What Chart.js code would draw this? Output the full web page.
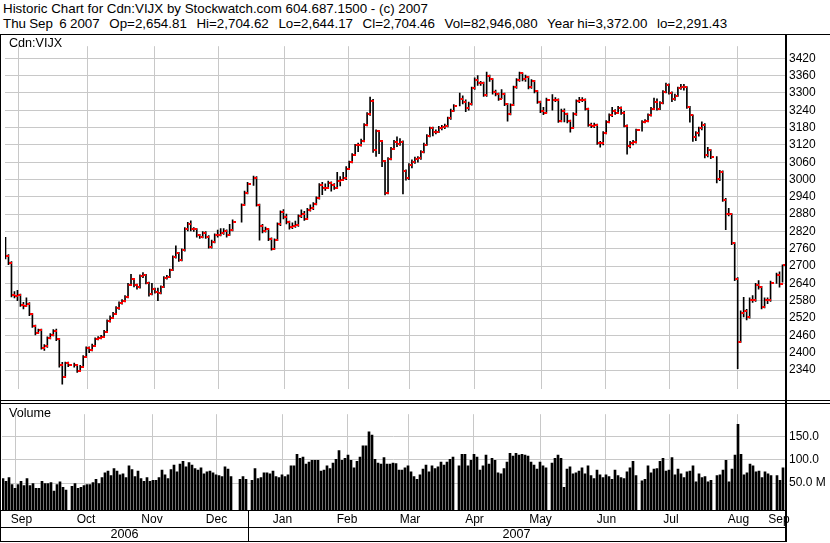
<!DOCTYPE html>
<html>
<head>
<meta charset="utf-8">
<script src="https://cdn.jsdelivr.net/npm/chart.js@4.4.0/dist/chart.umd.min.js"></script>
<style>
    body { margin: 0; background: #fff; }
    #wrap { position: relative; width: 830px; height: 543px; overflow: hidden; background: #fff; color: #000;
            font-family: 'Liberation Sans', Arial, sans-serif; }
    .txt { position: absolute; white-space: pre; font-size: 12.6px; line-height: 14px; }
    .head { font-size: 13.35px; }
    .rule { position: absolute; background: #000; }
    canvas { position: absolute; left: 0; }
</style>
</head>
<body>
<div id="wrap">
    <div class="txt head" style="left:3px; top:2px">Historic Chart for Cdn:VIJX by Stockwatch.com 604.687.1500 - (c) 2007</div>
    <div class="txt head" style="left:3px; top:17px; word-spacing:-0.5px">Thu Sep  6 2007   Op=2,654.81   Hi=2,704.62   Lo=2,644.17   Cl=2,704.46   Vol=82,946,080   Year hi=3,372.00   lo=2,291.43</div>
    <canvas id="price-chart" width="830" height="365" style="top:35px"></canvas>
    <canvas id="volume-chart" width="830" height="124" style="top:403px"></canvas>
    <div class="txt" style="left:9px; top:36px">Cdn:VIJX</div>
    <div class="txt" style="left:9px; top:406px">Volume</div>
</div>

<script>
const startDate = '2006-09-07';
const endDate = '2007-09-06';
const monthNames = ['Jan', 'Feb', 'Mar', 'Apr', 'May', 'Jun', 'Jul', 'Aug', 'Sep', 'Oct', 'Nov', 'Dec'];

// one entry per weekday, null on market holidays
const closes = [
    2734, 2712, 2599, 2597, 2600, 2565, 2562, 2570, 2533, 2493,
    2470, 2478, 2418, 2422, 2451, 2461, 2474, 2447, 2356, 2317,
    2364, 2359, null, 2356, 2338, 2351, 2386, 2417, 2409, 2425,
    2447, 2451, 2455, 2473, 2509, 2522, 2535, 2554, 2571, 2578,
    2593, 2636, 2655, 2633, 2626, 2665, 2670, 2643, 2602, 2621,
    2612, 2606, 2627, 2659, 2663, 2686, 2730, 2744, 2721, 2755,
    2828, 2845, 2828, 2827, 2807, 2802, 2814, 2802, 2767, 2783,
    2808, 2808, 2815, 2821, 2808, 2826, 2852, null, null, 2913,
    2955, 2984, null, 3006, 2913, 2838, 2822, 2829, 2795, 2761,
    2790, 2845, 2887, 2869, 2852, 2834, 2838, 2841, 2873, 2882,
    2865, 2895, 2900, 2916, 2936, 2982, 2969, 2972, 2988, 2982,
    2972, 2994, 3000, 3004, 3037, 3060, 3086, 3118, 3121, 3134,
    3190, 3226, 3271, 3104, 3167, 3134, 3063, 2952, 3072, 3107,
    3131, 3124, 3130, 3030, 3004, 3050, 3062, 3072, 3075, 3095,
    3121, 3151, 3177, 3164, 3166, 3179, 3183, 3186, 3212, 3239,
    3255, null, 3280, 3270, 3248, 3262, 3316, 3346, 3333, 3333,
    3294, 3359, 3348, 3302, 3297, 3280, 3297, 3262, 3226, 3258,
    3319, 3346, 3368, 3348, 3357, 3319, 3342, 3306, 3270, 3239,
    3232, 3277, null, 3277, 3277, 3203, 3239, 3226, 3203, 3180,
    3226, 3271, 3277, 3277, 3245, 3190, 3187, 3190, 3128, 3125,
    3161, 3200, 3223, 3236, 3232, 3249, 3232, 3187, 3115, 3127,
    3130, 3170, null, 3200, 3203, 3223, 3245, 3268, 3245, 3265,
    3303, 3329, 3301, 3278, 3290, 3316, 3322, 3319, 3251, 3222,
    3148, 3160, 3177, 3190, 3086, 3101, 3079, null, 3001, 3027,
    2930, 2880, 2880, 2779, 2656, 2438, 2539, 2543, 2525, 2583,
    2581, 2633, 2627, 2559, 2584, 2581, 2643, null, 2671, 2639,
    2704.46,
];

const highs = [
    2800, 2740, 2716, 2612, 2616, 2603, 2575, 2590, 2574, 2536,
    2496, 2482, 2482, 2428, 2455, 2466, 2480, 2482, 2450, 2367,
    2368, 2368, null, 2364, 2360, 2356, 2390, 2420, 2420, 2430,
    2452, 2456, 2460, 2478, 2514, 2528, 2540, 2560, 2576, 2584,
    2598, 2640, 2672, 2658, 2638, 2670, 2678, 2672, 2645, 2640,
    2624, 2624, 2632, 2664, 2668, 2690, 2736, 2770, 2748, 2760,
    2834, 2852, 2857, 2834, 2830, 2810, 2820, 2820, 2806, 2790,
    2812, 2825, 2830, 2830, 2826, 2845, 2860, null, null, 2916,
    2960, 2990, null, 3012, 3010, 2915, 2845, 2835, 2830, 2798,
    2795, 2850, 2892, 2896, 2880, 2856, 2850, 2856, 2878, 2895,
    2890, 2900, 2912, 2920, 2940, 2986, 2990, 2985, 2995, 2992,
    2986, 3025, 3010, 3025, 3045, 3064, 3090, 3122, 3126, 3140,
    3194, 3232, 3286, 3278, 3172, 3170, 3136, 3066, 3076, 3112,
    3136, 3148, 3142, 3134, 3034, 3055, 3068, 3078, 3080, 3100,
    3126, 3156, 3182, 3182, 3172, 3184, 3188, 3192, 3216, 3244,
    3260, null, 3300, 3290, 3276, 3268, 3320, 3352, 3360, 3340,
    3338, 3372, 3362, 3350, 3310, 3300, 3312, 3300, 3264, 3262,
    3324, 3350, 3372, 3370, 3362, 3358, 3346, 3344, 3308, 3272,
    3250, 3282, null, 3294, 3284, 3280, 3244, 3245, 3230, 3206,
    3232, 3276, 3285, 3284, 3280, 3248, 3196, 3196, 3192, 3132,
    3166, 3204, 3228, 3250, 3242, 3254, 3252, 3236, 3190, 3132,
    3136, 3175, null, 3204, 3208, 3228, 3250, 3282, 3280, 3270,
    3308, 3334, 3332, 3304, 3296, 3320, 3330, 3330, 3322, 3254,
    3224, 3166, 3182, 3200, 3194, 3112, 3104, null, 3080, 3032,
    3030, 2935, 2900, 2882, 2782, 2660, 2545, 2592, 2550, 2590,
    2598, 2640, 2650, 2630, 2590, 2590, 2648, null, 2676, 2680,
    2704.62,
];

const lows = [
    2725, 2705, 2593, 2590, 2580, 2560, 2552, 2560, 2528, 2488,
    2462, 2468, 2412, 2408, 2418, 2448, 2458, 2442, 2350, 2291.43,
    2315, 2352, null, 2350, 2332, 2336, 2350, 2384, 2400, 2406,
    2422, 2444, 2448, 2452, 2470, 2506, 2518, 2532, 2550, 2568,
    2576, 2590, 2632, 2628, 2620, 2624, 2660, 2638, 2596, 2600,
    2606, 2580, 2604, 2625, 2655, 2660, 2684, 2728, 2716, 2718,
    2752, 2822, 2822, 2820, 2800, 2796, 2798, 2796, 2762, 2762,
    2780, 2800, 2805, 2810, 2800, 2806, 2822, null, null, 2852,
    2910, 2950, null, 2980, 2908, 2790, 2815, 2818, 2788, 2755,
    2758, 2788, 2840, 2864, 2846, 2828, 2830, 2834, 2838, 2868,
    2858, 2862, 2890, 2896, 2912, 2932, 2948, 2962, 2968, 2960,
    2966, 2968, 2978, 2996, 3000, 3034, 3058, 3084, 3097, 3116,
    3130, 3186, 3222, 3094, 3080, 3090, 3045, 2947, 2950, 3068,
    3104, 3114, 3118, 2950, 2998, 3000, 3040, 3056, 3060, 3070,
    3092, 3118, 3148, 3151, 3158, 3162, 3172, 3176, 3182, 3208,
    3236, null, 3255, 3262, 3235, 3240, 3258, 3312, 3326, 3326,
    3288, 3288, 3340, 3296, 3290, 3274, 3280, 3256, 3202, 3224,
    3256, 3316, 3340, 3342, 3340, 3314, 3316, 3300, 3264, 3232,
    3225, 3230, null, 3240, 3270, 3198, 3200, 3200, 3196, 3164,
    3178, 3222, 3266, 3270, 3240, 3184, 3180, 3180, 3122, 3112,
    3120, 3158, 3196, 3218, 3226, 3228, 3226, 3182, 3088, 3110,
    3120, 3126, null, 3168, 3196, 3200, 3220, 3242, 3240, 3242,
    3262, 3300, 3296, 3270, 3274, 3288, 3312, 3310, 3246, 3199,
    3132, 3135, 3150, 3172, 3075, 3078, 3072, null, 2988, 2996,
    2924, 2826, 2874, 2774, 2650, 2345, 2436, 2524, 2514, 2520,
    2574, 2578, 2620, 2552, 2555, 2570, 2578, null, 2640, 2627,
    2644.17,
];

// millions of shares
const volumes = [
    60, 54, 62, 47, 39, 47, 54, 45, 60, 45,
    49, 39, 39, 54, 49, 49, 51, 33, 47, 53,
    41, 35, null, 43, 49, 39, 41, 45, 47, 47,
    51, 58, 49, 62, 72, 76, 66, 81, 76, 68,
    70, 62, 87, 79, 64, 76, 60, 54, 62, 54,
    56, 56, 62, 78, 68, 60, 79, 89, 74, 91,
    97, 85, 94, 89, 81, 78, 83, 70, 74, 76,
    72, 68, 66, 64, 85, 80, 64, null, null, 58,
    64, 58, null, 56, 81, 60, 62, 72, 72, 70,
    76, 64, 62, 68, 64, 68, 87, 87, 112, 103,
    106, 91, 95, 99, 99, 99, 76, 78, 87, 81,
    93, 101, 120, 99, 103, 110, 99, 83, 97, 106,
    130, 130, 160, 153, 101, 93, 91, 105, 91, 91,
    93, 92, 78, 78, 83, 87, 74, 64, 58, 68,
    80, 89, 74, 87, 81, 85, 95, 89, 95, 101,
    106, null, 87, 112, 112, 87, 99, 112, 106, 78,
    87, 110, 91, 103, 99, 72, 70, 81, 95, 114,
    108, 114, 110, 112, 110, 108, 95, 89, 80, 95,
    87, 83, null, 93, 103, 110, 103, 41, 80, 85,
    70, 72, 76, 83, 70, 87, 66, 60, 78, 68,
    62, 68, 64, 58, 78, 66, 62, 60, 74, 83,
    97, 66, null, 55, 58, 87, 72, 80, 81, 97,
    103, 76, 78, 105, 68, 80, 70, 62, 74, 76,
    87, 53, 70, 62, 64, 53, 56, null, 66, 68,
    78, 99, 53, 80, 110, 176, 112, 68, 72, 91,
    87, 74, 76, 62, 74, 70, 66, null, 66, 56,
    82.95,
];

const priceTicks = [2340, 2400, 2460, 2520, 2580, 2640, 2700, 2760, 2820, 2880,
    2940, 3000, 3060, 3120, 3180, 3240, 3300, 3360, 3420];
const volumeTicks = [50, 100, 150];
const volumeTickLabels = ['50.0 M', '100.0', '150.0'];

const priceMin = 2275;
const priceMax = 3462;
const volumeMin = -7.7;
const volumeMax = 198;

const gridColor = '#c8c8c8';
const labelFont = { family: "'Liberation Sans', Arial, sans-serif", size: 12 };

const isWeekend = (d) => d.getUTCDay() === 0 || d.getUTCDay() === 6;

// weekdays of the period, one chart slot each
const tradingDays = [];
for (let d = new Date(startDate + 'T00:00:00Z'); d <= new Date(endDate + 'T00:00:00Z'); d.setUTCDate(d.getUTCDate() + 1)) {
    if (!isWeekend(d)) {
        tradingDays.push(new Date(d));
    }
}
const slotCount = tradingDays.length;

const months = [];
tradingDays.forEach((d, i) => {
    const last = months[months.length - 1];
    if (!last || last.month !== d.getUTCMonth()) {
        months.push({ month: d.getUTCMonth(), year: d.getUTCFullYear(), first: i, last: i });
    } else {
        last.last = i;
    }
});

// the first month label is centred on the whole month, weekdays before the start included
let leadDays = 0;
for (let d = new Date(Date.UTC(months[0].year, months[0].month, 1)); d < tradingDays[0]; d.setUTCDate(d.getUTCDate() + 1)) {
    if (!isWeekend(d)) leadDays += 1;
}

// a month line sits at the slot of its 1st, or of the Friday before when the 1st is a weekend
const monthBoundaries = months.slice(1).map((m) => {
    const d = new Date(Date.UTC(m.year, m.month, 1));
    while (isWeekend(d)) d.setUTCDate(d.getUTCDate() - 1);
    return tradingDays.findIndex((t) => t.getTime() === d.getTime());
});
const monthCenters = months.map((m, i) => ((i === 0 ? m.first - leadDays : m.first) + m.last) / 2);
const monthLabels = months.map((m) => monthNames[m.month]);

const years = [];
months.forEach((m) => {
    const last = years[years.length - 1];
    if (!last || last.year !== m.year) {
        years.push({ year: m.year, first: m.first, last: m.last });
    } else {
        last.last = m.last;
    }
});

const rangePoints = [];
const closePoints = [];
const volumePoints = [];
tradingDays.forEach((d, i) => {
    if (highs[i] != null) rangePoints.push({ x: i, y: [lows[i], highs[i]] });
    if (closes[i] != null) closePoints.push({ x: i, y: closes[i] });
    if (volumes[i] != null) volumePoints.push({ x: i, y: volumes[i] });
});

Chart.defaults.font = labelFont;
Chart.defaults.color = '#000';

// slot i spans 3px; these offsets put the range line and volume bar on whole pixels
const priceXMin = -1 / 6;
const volumeXMin = -1 / 3;

// close tick: red mark just right of the 1px range line it is centred on
const closeMark = document.createElement('canvas');
closeMark.width = 7;
closeMark.height = 2;
const markCtx = closeMark.getContext('2d');
markCtx.fillStyle = '#ff0000';
markCtx.fillRect(4, 0, 3, 2);

function rightAxis(min, max, ticks, label) {
    return {
        position: 'right',
        min,
        max,
        afterBuildTicks(scale) {
            scale.ticks = ticks.map((value) => ({ value }));
        },
        afterFit(scale) {
            scale.width = 45;
        },
        grid: { color: gridColor, drawTicks: false },
        border: { display: false },
        ticks: {
            padding: 4,
            color: '#000',
            font: labelFont,
            callback: label,
        },
    };
}

function boundaryAxis(xMin) {
    return {
        type: 'linear',
        min: xMin,
        max: xMin + slotCount,
        offset: false,
        afterBuildTicks(scale) {
            scale.ticks = monthBoundaries.map((s) => ({ value: s + xMin }));
        },
        afterFit(scale) {
            scale.height = 0;
        },
        grid: { color: gridColor, drawTicks: false },
        border: { display: false },
        ticks: { display: false },
    };
}

// eslint-disable-next-line no-new
new Chart(document.getElementById('price-chart'), {
    type: 'bar',
    data: {
        datasets: [
            {
                type: 'scatter',
                label: 'Close',
                data: closePoints,
                pointStyle: closeMark,
                pointRadius: 2,
                order: 0,
            },
            {
                label: 'Range',
                data: rangePoints,
                backgroundColor: '#000',
                barThickness: 1,
                order: 1,
            },
        ],
    },
    options: {
        responsive: false,
        animation: false,
        events: [],
        layout: { padding: { left: 2, right: 0, top: 0, bottom: 0 } },
        plugins: { legend: { display: false }, tooltip: { enabled: false } },
        scales: {
            x: boundaryAxis(priceXMin),
            y: rightAxis(priceMin, priceMax, priceTicks, (value) => String(value)),
        },
    },
});

const volumeChart = new Chart(document.getElementById('volume-chart'), {
    type: 'bar',
    data: {
        datasets: [
            {
                label: 'Volume',
                data: volumePoints,
                backgroundColor: '#000',
                barThickness: 2,
                base: volumeMin,
            },
        ],
    },
    options: {
        responsive: false,
        animation: false,
        events: [],
        layout: { padding: { left: 2, right: 0, top: 0, bottom: 0 } },
        plugins: { legend: { display: false }, tooltip: { enabled: false } },
        scales: {
            x: boundaryAxis(volumeXMin),
            xMonth: {
                type: 'linear',
                position: 'bottom',
                min: volumeXMin,
                max: volumeXMin + slotCount,
                offset: false,
                afterBuildTicks(scale) {
                    scale.ticks = monthCenters.map((c) => ({ value: c + 1 / 6 }));
                },
                afterFit(scale) {
                    scale.height = 17;
                },
                grid: { display: false, drawTicks: false },
                border: { display: false },
                ticks: {
                    autoSkip: false,
                    maxRotation: 0,
                    padding: 2,
                    color: '#000',
                    font: labelFont,
                    callback: (value, index) => monthLabels[index],
                },
            },
            y: rightAxis(volumeMin, volumeMax, volumeTicks, (value, index) => volumeTickLabels[index]),
        },
    },
});

// frame, year row and the year dividers
const wrap = document.getElementById('wrap');
function rule(left, top, width, height) {
    const el = document.createElement('div');
    el.className = 'rule';
    el.style.cssText = `left:${left}px;top:${top}px;width:${width}px;height:${height}px`;
    wrap.appendChild(el);
}
rule(0, 34, 830, 1);
rule(0, 34, 1, 508);
rule(785, 34, 2, 508);
rule(0, 400, 830, 1);
rule(0, 403, 830, 1);
rule(0, 510, 787, 1);
rule(0, 527, 787, 1);
rule(0, 541, 787, 1);

const xScale = volumeChart.scales.x;
const slotEdge = (s) => xScale.getPixelForValue(s + volumeXMin);
years.forEach((y, i) => {
    const left = i === 0 ? 1 : Math.round(slotEdge(y.first));
    const right = i === years.length - 1 ? 785 : Math.round(slotEdge(y.last + 1));
    if (i > 0) rule(left, 510, 1, 31);
    const el = document.createElement('div');
    el.className = 'txt';
    el.style.cssText = `left:${left}px;top:527px;width:${right - left}px;text-align:center;line-height:15px`;
    el.textContent = String(y.year);
    wrap.appendChild(el);
});
</script>
</body>
</html>
